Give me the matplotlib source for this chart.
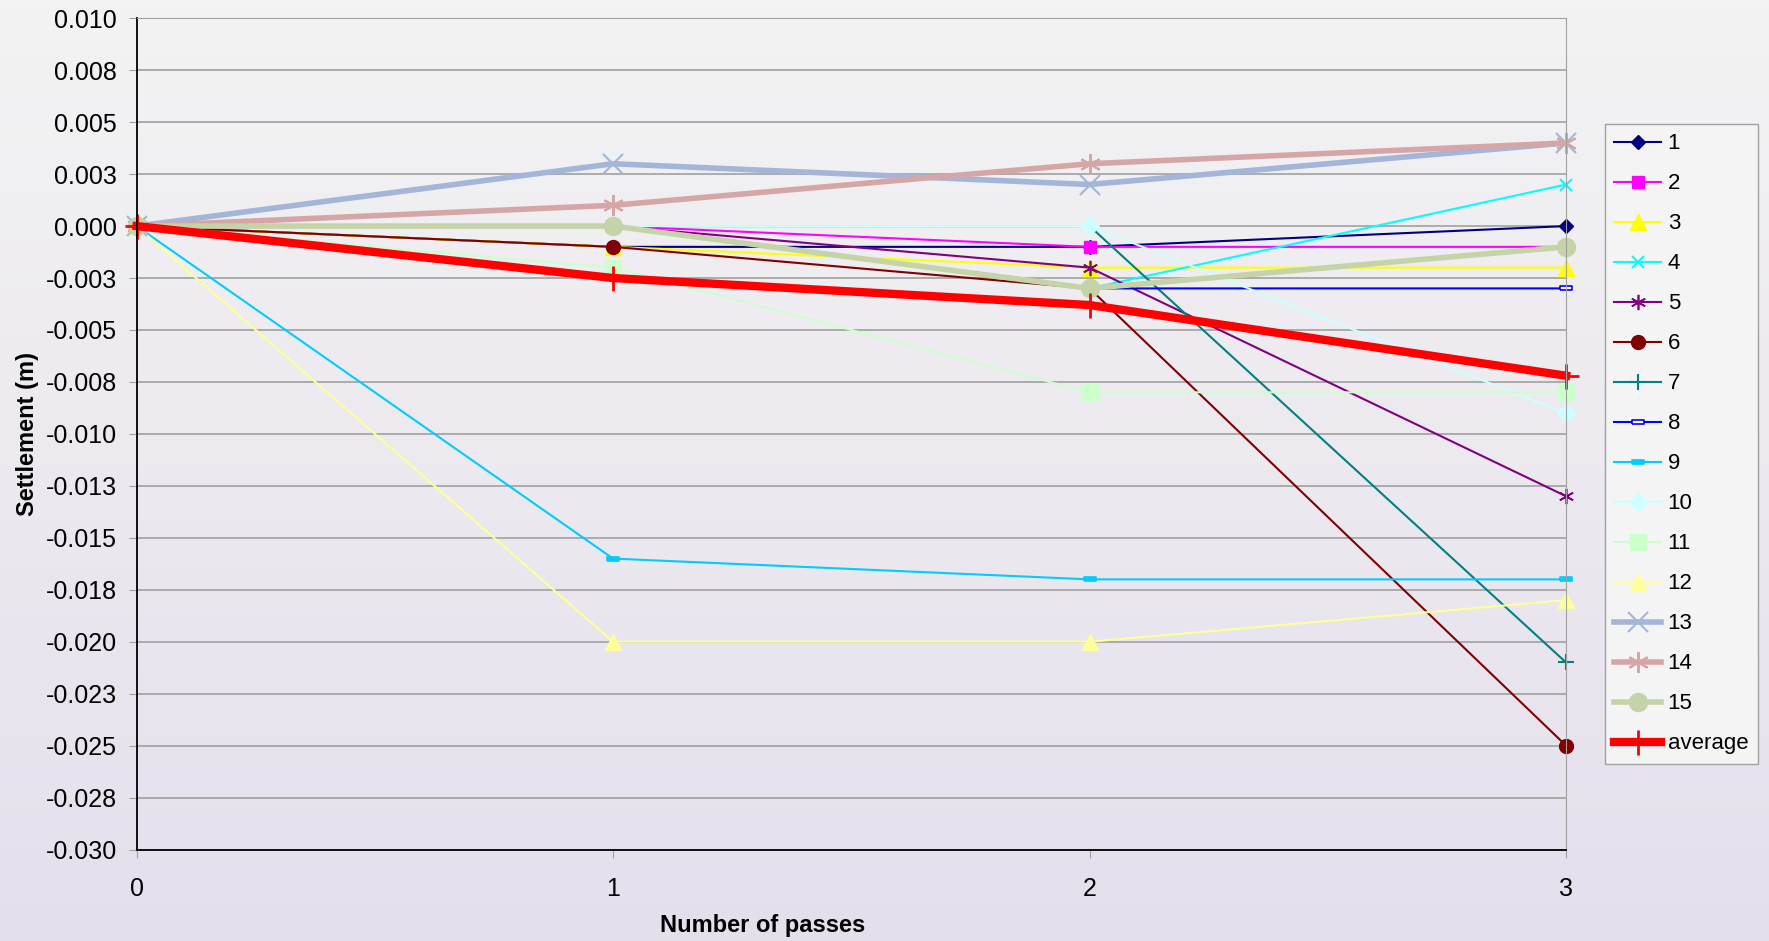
import matplotlib
matplotlib.use("Agg")
import matplotlib.pyplot as plt
import numpy as np

plt.rcParams['font.family'] = ['Liberation Sans', 'DejaVu Sans']

passes = [0, 1, 2, 3]

s1 = [0.0, -0.001, -0.001, 0.0]
s2 = [0.0, 0.0, -0.001, -0.001]
s3 = [0.0, -0.001, -0.002, -0.002]
s4 = [0.0, 0.0, -0.003, 0.002]
s5 = [0.0, 0.0, -0.002, -0.013]
s6 = [0.0, -0.001, -0.003, -0.025]
s7 = [0.0, 0.0, 0.0, -0.021]
s8 = [0.0, 0.0, -0.003, -0.003]
s9 = [0.0, -0.016, -0.017, -0.017]
s10 = [0.0, 0.0, 0.0, -0.009]
s11 = [0.0, -0.002, -0.008, -0.008]
s12 = [0.0, -0.020, -0.020, -0.018]
s13 = [0.0, 0.003, 0.002, 0.004]
s14 = [0.0, 0.001, 0.003, 0.004]
s15 = [0.0, 0.0, -0.003, -0.001]
average = [0.0, -0.0025, -0.0038, -0.0072]

labels = ['1', '2', '3', '4', '5', '6', '7', '8', '9', '10', '11', '12', '13', '14', '15', 'average']

ytick_vals = [0.010, 0.0075, 0.005, 0.0025, 0.0, -0.0025, -0.005, -0.0075, -0.010,
              -0.0125, -0.015, -0.0175, -0.020, -0.0225, -0.025, -0.0275, -0.030]
ytick_text = ['0.010', '0.008', '0.005', '0.003', '0.000', '-0.003', '-0.005', '-0.008', '-0.010',
              '-0.013', '-0.015', '-0.018', '-0.020', '-0.023', '-0.025', '-0.028', '-0.030']

# excel-like asterisk and dash markers
asterisk = (6, 2, 0)
dash = [(-1, -0.35), (1, -0.35), (1, 0.35), (-1, 0.35), (-1, -0.35)]

styles = [
    dict(color='#000080', marker='D', ms=7, lw=1.5),
    dict(color='#ff00ff', marker='s', ms=9, lw=1.5),
    dict(color='#ffff00', marker='^', ms=11, lw=1.5),
    dict(color='#00ffff', marker='x', ms=9, mew=1.5, lw=1.5),
    dict(color='#800080', marker=asterisk, ms=11, mew=1.2, lw=1.5),
    dict(color='#800000', marker='o', ms=10, lw=1.5),
    dict(color='#008080', marker='+', ms=12, mew=1.5, lw=1.5),
    dict(color='#0000ff', marker=dash, ms=9, mfc='white', mew=1.2, lw=1.5),
    dict(color='#00ccff', marker=dash, ms=9, mew=1.2, lw=1.5),
    dict(color='#ccffff', marker='D', ms=9, lw=1.5),
    dict(color='#ccffcc', marker='s', ms=11, lw=1.5),
    dict(color='#ffff99', marker='^', ms=11, lw=1.5),
    dict(color='#a3b5d8', marker='x', ms=14, mew=1.5, lw=4),
    dict(color='#d6a6a6', marker=asterisk, ms=15, mew=1.5, lw=4),
    dict(color='#c5d3a9', marker='o', ms=13, lw=4),
    dict(color='#ff0000', marker='+', ms=18, mew=2, lw=6),
]

series = [s1, s2, s3, s4, s5, s6, s7, s8, s9, s10, s11, s12, s13, s14, s15, average]

fig = plt.figure(figsize=(17.69, 9.41), dpi=100)

# gradient background
bg = fig.add_axes([0, 0, 1, 1], zorder=-10)
grad = np.linspace(0, 1, 256).reshape(-1, 1)
top = np.array([0.953, 0.953, 0.953])
bot = np.array([0.898, 0.875, 0.925])
img = top + (bot - top) * grad[:, :, None]
bg.imshow(img, aspect='auto', extent=[0, 1, 0, 1])
bg.axis('off')

ax = fig.add_axes([0.0772, 0.0972, 0.8081, 0.8834])
ax.set_facecolor('none')

for data, lab, st in zip(series, labels, styles):
    ax.plot(passes, data, label=lab, clip_on=False, **st)

ax.set_xlim(0, 3)
ax.set_ylim(-0.030, 0.010)
ax.set_xticks(passes)
ax.set_yticks(ytick_vals)
ax.set_yticklabels(ytick_text)
ax.tick_params(axis='y', direction='out', length=6, color='#a0a0a0', labelsize=18, pad=8)
ax.tick_params(axis='x', direction='out', length=6, color='#a0a0a0', labelsize=18, pad=14)
ax.grid(axis='y', color='#a0a0a0', lw=1.2)
ax.set_axisbelow(True)

ax.spines['left'].set_color('black')
ax.spines['bottom'].set_color('black')
ax.spines['left'].set_linewidth(1.3)
ax.spines['bottom'].set_linewidth(1.3)
ax.spines['top'].set_color('#a0a0a0')
ax.spines['right'].set_color('#a0a0a0')

ax.set_xlabel('Number of passes', fontsize=17, fontweight='bold')
ax.xaxis.set_label_coords(0.438, -0.077)
ax.set_ylabel('Settlement (m)', fontsize=17, fontweight='bold', labelpad=5)

leg = fig.legend(loc='upper left', bbox_to_anchor=(0.9073, 0.8682), fontsize=16,
                 handlelength=2.1, handletextpad=0.3, labelspacing=0.855,
                 borderpad=0.42, borderaxespad=0, fancybox=False, framealpha=1,
                 edgecolor='#a0a0a0', facecolor='#f4f4f4')
leg.get_frame().set_linewidth(1.0)

fig.savefig('out.png', dpi=100)
